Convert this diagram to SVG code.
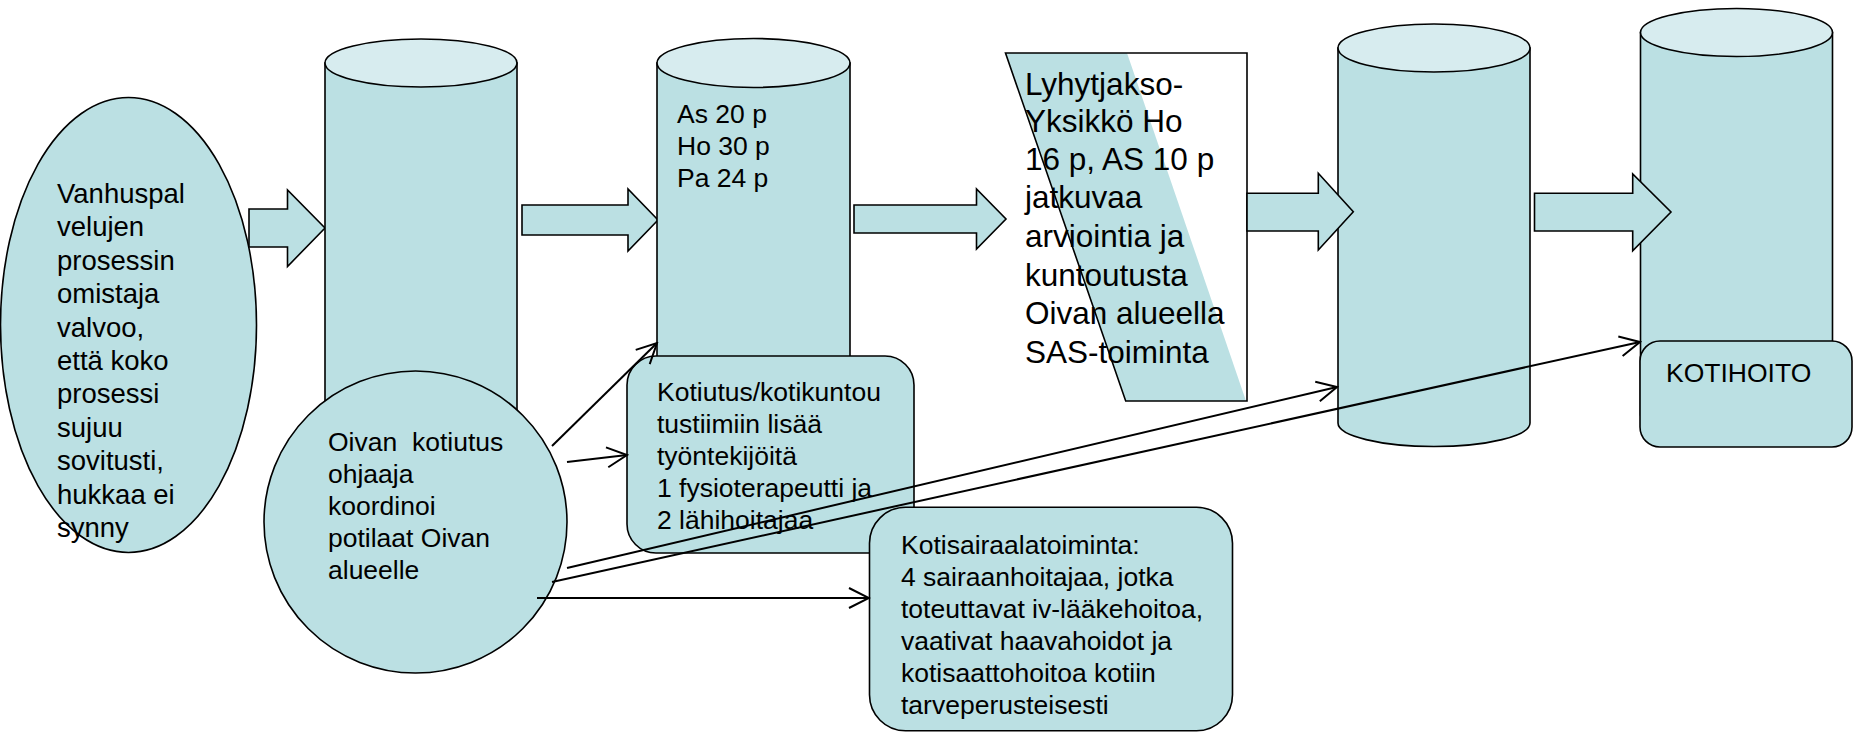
<svg xmlns="http://www.w3.org/2000/svg" width="1861" height="732" viewBox="0 0 1861 732">
<style>
.sh{fill:#BBE0E3;stroke:#000;stroke-width:1.6}
.top{fill:#D7ECEF;stroke:#000;stroke-width:1.6}
.ba{fill:#BBE0E3;stroke:#000;stroke-width:1.6;stroke-linejoin:miter}
.t{font-family:"Liberation Sans",Arial,sans-serif;font-size:26.5px;fill:#000}
.tb{font-family:"Liberation Sans",Arial,sans-serif;font-size:27.5px;fill:#000}
.tl{font-family:"Liberation Sans",Arial,sans-serif;font-size:31.5px;fill:#000}
.c{fill:none;stroke:#000;stroke-width:2;marker-end:url(#open)}
</style>
<defs>
<marker id="open" viewBox="-22 -12 24 24" refX="0" refY="0" markerWidth="24" markerHeight="24" markerUnits="userSpaceOnUse" orient="auto">
<path d="M-20,-10 L0,0 L-20,10" fill="none" stroke="#000" stroke-width="2"/>
</marker>
</defs>
<rect width="1861" height="732" fill="#fff"/>

<g id="owner">
<ellipse class="sh" cx="128.5" cy="325" rx="128" ry="227.5"/>
<text class="tb"><tspan x="57" y="203">Vanhuspal</tspan><tspan x="57" y="236.4">velujen</tspan><tspan x="57" y="269.8">prosessin</tspan><tspan x="57" y="303.2">omistaja</tspan><tspan x="57" y="336.6">valvoo,</tspan><tspan x="57" y="370">että koko</tspan><tspan x="57" y="403.4">prosessi</tspan><tspan x="57" y="436.8">sujuu</tspan><tspan x="57" y="470.2">sovitusti,</tspan><tspan x="57" y="503.6">hukkaa ei</tspan><tspan x="57" y="537">synny</tspan></text>
</g>

<g id="arrow1">
<polygon class="ba" points="249,209 287.5,209 287.5,190 325,228 287.5,266.5 287.5,247 249,247"/>
</g>

<g id="cyl1">
<path class="sh" d="M325,63 L325,520 A96,24 0 0 0 517,520 L517,63 Z"/>
<ellipse class="top" cx="421" cy="63" rx="96" ry="24"/>
</g>

<g id="coordinator">
<ellipse class="sh" cx="415.5" cy="522" rx="151.5" ry="151"/>
<text class="t" xml:space="preserve" style="white-space:pre"><tspan x="328" y="451">Oivan  kotiutus</tspan><tspan x="328" y="483">ohjaaja</tspan><tspan x="328" y="515">koordinoi</tspan><tspan x="328" y="547">potilaat Oivan</tspan><tspan x="328" y="579">alueelle</tspan></text>
</g>

<g id="arrow2">
<polygon class="ba" points="522,205 628,205 628,189 658,220 628,251 628,235 522,235"/>
</g>

<g id="cyl2">
<path class="sh" d="M657,63 L657,500 A96.5,24 0 0 0 850,500 L850,63 Z"/>
<ellipse class="top" cx="753.5" cy="63" rx="96.5" ry="24.5"/>
<text class="t"><tspan x="677" y="123">As 20 p</tspan><tspan x="677" y="155">Ho 30 p</tspan><tspan x="677" y="187">Pa 24 p</tspan></text>
</g>

<g id="kotiutus">
<rect class="sh" x="627" y="356" width="287" height="197" rx="29" ry="29"/>
<text class="t"><tspan x="657" y="401">Kotiutus/kotikuntou</tspan><tspan x="657" y="433">tustiimiin lisää</tspan><tspan x="657" y="465">työntekijöitä</tspan><tspan x="657" y="497">1 fysioterapeutti ja</tspan><tspan x="657" y="529">2 lähihoitajaa</tspan></text>
</g>

<g id="arrow3">
<polygon class="ba" points="854,205 976.5,205 976.5,189 1006,219 976.5,249 976.5,233 854,233"/>
</g>

<g id="lyhytjakso">
<polygon points="1005.5,53 1247,53 1247,401 1125.7,401" fill="#fff" stroke="none"/>
<polygon points="1005.5,53 1127,53 1246,401 1125.7,401" fill="#BBE0E3" stroke="none"/>
<polygon points="1005.5,53 1247,53 1247,401 1125.7,401" fill="none" stroke="#000" stroke-width="1.6"/>
<text class="tl"><tspan x="1025" y="95">Lyhytjakso-</tspan><tspan x="1025" y="132">Yksikkö Ho</tspan><tspan x="1025" y="169.5">16 p, AS 10 p</tspan><tspan x="1025" y="208">jatkuvaa</tspan><tspan x="1025" y="246.5">arviointia ja</tspan><tspan x="1025" y="285.5">kuntoutusta</tspan><tspan x="1025" y="324">Oivan alueella</tspan><tspan x="1025" y="362.5">SAS-toiminta</tspan></text>
</g>

<g id="cyl3">
<path class="sh" d="M1338,48 L1338,423 A96,23.5 0 0 0 1530,423 L1530,48 Z"/>
<ellipse class="top" cx="1434" cy="48" rx="96" ry="24"/>
</g>

<g id="arrow4">
<polygon class="ba" points="1247,193.3 1318.3,193.3 1318.3,173.3 1353.3,211.7 1318.3,250 1318.3,231 1247,231"/>
</g>

<g id="cyl4">
<path class="sh" d="M1640.5,32.5 L1640.5,415 A96,24 0 0 0 1832.5,415 L1832.5,32.5 Z"/>
<ellipse class="top" cx="1736.5" cy="32.5" rx="96" ry="24"/>
</g>

<g id="arrow5">
<polygon class="ba" points="1534.5,193.3 1632.7,193.3 1632.7,174 1671,212 1632.7,250.7 1632.7,231 1534.5,231"/>
</g>

<g id="kotihoito">
<rect class="sh" x="1640" y="341" width="212" height="106" rx="20" ry="20"/>
<text class="t" x="1666" y="381.7">KOTIHOITO</text>
</g>

<g id="kotisairaala">
<rect class="sh" x="869.5" y="507.3" width="363" height="223.5" rx="36" ry="36"/>
<text class="t"><tspan x="901" y="554">Kotisairaalatoiminta:</tspan><tspan x="901" y="586">4 sairaanhoitajaa, jotka</tspan><tspan x="901" y="618">toteuttavat iv-lääkehoitoa,</tspan><tspan x="901" y="650">vaativat haavahoidot ja</tspan><tspan x="901" y="682">kotisaattohoitoa kotiin</tspan><tspan x="901" y="713.5">tarveperusteisesti</tspan></text>
</g>

<g id="connectors">
<line class="c" x1="552" y1="446" x2="657" y2="343"/>
<line class="c" x1="567" y1="462" x2="627" y2="455"/>
<line class="c" x1="567" y1="568" x2="1337" y2="387"/>
<line class="c" x1="552" y1="582" x2="1640" y2="342"/>
<line class="c" x1="537" y1="598" x2="869" y2="598"/>
</g>
</svg>
